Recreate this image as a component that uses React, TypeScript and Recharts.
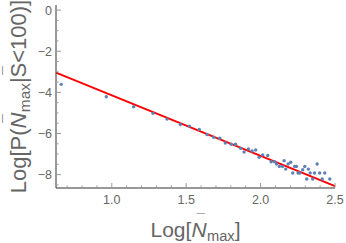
import { ScatterChart, Scatter, XAxis, YAxis, ReferenceLine } from 'recharts'

// readings of the scatter points
const logN = [
  0.66, 0.963, 1.147, 1.277, 1.371, 1.461, 1.521, 1.588, 1.64, 1.685, 1.725,
  1.763, 1.802, 1.831, 1.866, 1.889, 1.918, 1.943, 1.967, 1.99, 2.014, 2.048,
  2.071, 2.093, 2.107, 2.126, 2.147, 2.158, 2.169, 2.185, 2.202, 2.216, 2.229,
  2.241, 2.252, 2.263, 2.283, 2.297, 2.31, 2.321, 2.333, 2.35, 2.362, 2.38,
  2.397, 2.414, 2.431, 2.465,
]
const logP = [
  -3.61, -4.21, -4.7, -5.02, -5.3, -5.56, -5.64, -5.8, -6.05, -6.18, -6.23,
  -6.46, -6.52, -6.52, -6.72, -6.9, -6.75, -6.85, -6.8, -7.16, -7.04, -7.07,
  -7.37, -7.37, -7.48, -7.6, -7.6, -7.32, -7.73, -7.48, -7.4, -7.92, -7.6,
  -7.6, -7.92, -7.92, -7.76, -7.6, -8.21, -7.73, -7.92, -8.21, -7.92, -7.48,
  -7.92, -8.21, -7.92, -8.21,
]

// fitted line end points
const fitX = [0.625, 2.5]
const fitY = [-3.04, -8.56]

const xTicks = [
  0.7, 0.8, 0.9, 1.0, 1.1, 1.2, 1.3, 1.4, 1.5, 1.6, 1.7, 1.8, 1.9, 2.0, 2.1,
  2.2, 2.3, 2.4, 2.5,
]
const yTicks = [
  -8.5, -8, -7.5, -7, -6.5, -6, -5.5, -5, -4.5, -4, -3.5, -3, -2.5, -2, -1.5,
  -1, -0.5, 0,
]

const points = logN.map((x, i) => ({ x, y: logP[i] }))

const FONT = '"Liberation Sans", Arial, sans-serif'
const TICK_COLOR = '#999'
const LABEL_COLOR = '#666'

const isMajorX = (v: number) => Math.abs(v * 2 - Math.round(v * 2)) < 1e-6
const isMajorY = (v: number) => Math.abs(v / 2 - Math.round(v / 2)) < 1e-6
const fmtY = (v: number) => (v === 0 ? '0' : '\u2212' + Math.abs(v))

const BottomTick = (props: any) => {
  const { x, y, payload } = props
  const major = isMajorX(payload.value)
  return (
    <g>
      <line x1={x} x2={x} y1={y} y2={y - (major ? 5 : 2.5)} stroke={TICK_COLOR} />
      {major && (
        <text x={x} y={y + 16} textAnchor='middle' fontSize={12.5} fill={LABEL_COLOR} fontFamily={FONT}>
          {payload.value.toFixed(1)}
        </text>
      )}
    </g>
  )
}

const TopTick = (props: any) => {
  const { x, y, payload } = props
  const major = isMajorX(payload.value)
  return <line x1={x} x2={x} y1={y} y2={y + (major ? 5 : 2.5)} stroke={TICK_COLOR} />
}

const LeftTick = (props: any) => {
  const { x, y, payload } = props
  const major = isMajorY(payload.value)
  return (
    <g>
      <line x1={x} x2={x + (major ? 5 : 2.5)} y1={y} y2={y} stroke={TICK_COLOR} />
      {major && (
        <text x={x - 4} y={y + 4.5} textAnchor='end' fontSize={12.5} fill={LABEL_COLOR} fontFamily={FONT}>
          {fmtY(payload.value)}
        </text>
      )}
    </g>
  )
}

const RightTick = (props: any) => {
  const { x, y, payload } = props
  const major = isMajorY(payload.value)
  return <line x1={x} x2={x - (major ? 5 : 2.5)} y1={y} y2={y} stroke={TICK_COLOR} />
}

// italic N with a bar above it, then subscript "max"
const BarN = ({ size }: { size: number }) => (
  <>
    <tspan fontStyle='italic'>N</tspan>
    <tspan fontSize={size * 0.7} dx={-size * 0.47} dy={-size * 0.6}>¯</tspan>
    <tspan fontSize={size * 0.7} dx={size * 0.1} dy={size * 0.6 + 4}>max</tspan>
  </>
)

const XLabel = (props: any) => {
  const { x, y, width } = props.viewBox
  return (
    <text x={x + width / 2} y={y + 49} textAnchor='middle' fontSize={21} fill={LABEL_COLOR} fontFamily={FONT}>
      Log[
      <BarN size={21} />
      <tspan dy={-4}>]</tspan>
    </text>
  )
}

const YLabel = (props: any) => {
  const { x, y, height } = props.viewBox
  const size = 22
  const cx = x + 26
  const cy = y + height / 2
  return (
    <text
      x={cx}
      y={cy}
      transform={`rotate(-90 ${cx} ${cy})`}
      textAnchor='middle'
      fontSize={size}
      fill={LABEL_COLOR}
      fontFamily={FONT}
    >
      Log[P(
      <BarN size={size} />
      <tspan dy={-4}>|</tspan>
      <tspan>S</tspan>
      <tspan fontSize={size * 0.7} dx={-size * 0.55} dy={-size * 0.6}>¯</tspan>
      <tspan dx={size * 0.16} dy={size * 0.6}>{'<100)]'}</tspan>
    </text>
  )
}

export default function App() {
  return (
    <div style={{ position: 'absolute', left: 0, top: 0, background: '#fff' }}>
      <ScatterChart width={346} height={243} margin={{ top: 5, right: 11, bottom: 0, left: 0 }}>
        <XAxis
          xAxisId='b'
          type='number'
          dataKey='x'
          domain={[0.625, 2.5]}
          allowDataOverflow
          ticks={xTicks}
          interval={0}
          height={55}
          tickSize={0}
          tickMargin={0}
          tickLine={false}
          tick={<BottomTick />}
          axisLine={{ stroke: '#333' }}
          label={{ content: <XLabel /> }}
        />
        <XAxis
          xAxisId='t'
          orientation='top'
          type='number'
          domain={[0.625, 2.5]}
          allowDataOverflow
          ticks={xTicks}
          interval={0}
          height={0}
          tickSize={0}
          tickMargin={0}
          tickLine={false}
          tick={<TopTick />}
          axisLine={{ stroke: '#333' }}
        />
        <YAxis
          yAxisId='l'
          type='number'
          dataKey='y'
          domain={[-8.65, 0.25]}
          allowDataOverflow
          ticks={yTicks}
          interval={0}
          width={56}
          tickSize={0}
          tickMargin={0}
          tickLine={false}
          tick={<LeftTick />}
          axisLine={{ stroke: '#333' }}
          label={{ content: <YLabel /> }}
        />
        <YAxis
          yAxisId='r'
          orientation='right'
          type='number'
          domain={[-8.65, 0.25]}
          allowDataOverflow
          ticks={yTicks}
          interval={0}
          width={0}
          tickSize={0}
          tickMargin={0}
          tickLine={false}
          tick={<RightTick />}
          axisLine={{ stroke: '#333' }}
        />
        <Scatter
          xAxisId='b'
          yAxisId='l'
          data={points}
          isAnimationActive={false}
          shape={(p: any) => <circle cx={p.cx} cy={p.cy} r={1.7} fill='#5E81B5' />}
        />
        <ReferenceLine
          xAxisId='b'
          yAxisId='l'
          segment={[
            { x: fitX[0], y: fitY[0] },
            { x: fitX[1], y: fitY[1] },
          ]}
          stroke='#ff0000'
          strokeWidth={2}
        />
      </ScatterChart>
    </div>
  )
}
